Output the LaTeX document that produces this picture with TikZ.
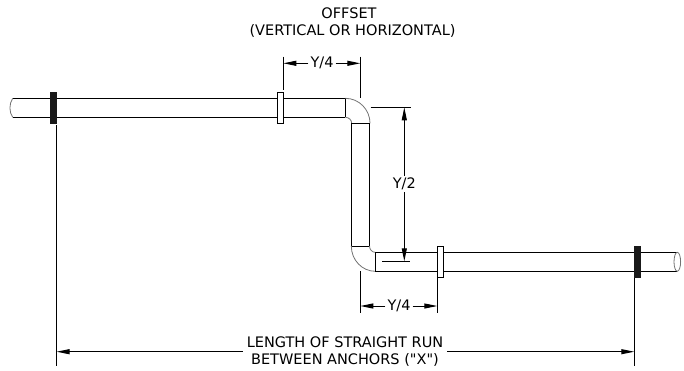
\documentclass[tikz,border=0pt]{standalone}
\usepackage{fontspec}
\setmainfont{DejaVu Sans}
\newcommand{\plainquote}{\XeTeXglyph\XeTeXcharglyph34 }
\usetikzlibrary{arrows.meta}
\tikzset{
  pipeline/.style={black,line width=1pt},
  elbowline/.style={black!55,line width=0.8pt},
  flange/.style={draw=black,line width=1pt,fill=white},
  anchorblock/.style={fill=black!90},
  extline/.style={black,line width=1pt},
  dimline/.style={black,line width=1pt,-{Stealth[length=13pt,width=5pt,inset=0pt]}},
  dimtext/.style={inner sep=2pt,font=\fontsize{14.5}{17}\selectfont,align=center}
}
\begin{document}
\begin{tikzpicture}[x=1pt,y=-1pt]
  \useasboundingbox (0,0) rectangle (684,370);
  % left run and upper elbow
  \draw [pipeline] (12.7,98.3) -- (345.3,98.3);
  \draw [pipeline] (12.7,117.3) -- (345.3,117.3);
  \draw [pipeline] (345.3,98.3) -- (345.3,117.3);
  \draw [elbowline] (12.7,98.3) .. controls (9,104) and (9,112) .. (12.7,117.3);
  \draw [elbowline] (345.3,98.3) arc (270:360:24.7 and 25);
  \draw [elbowline] (345.3,117.3) arc (270:360:6.4 and 6);
  % riser
  \draw [pipeline] (351.7,123.3) -- (351.7,246);
  \draw [pipeline] (369.7,123.3) -- (369.7,246);
  \draw [pipeline] (351.7,123.3) -- (370,123.3);
  \draw [pipeline] (351.3,246) -- (369.7,246);
  % right run and lower elbow
  \draw [elbowline] (351.3,246) arc (180:90:24 and 25.3);
  \draw [elbowline] (369.5,246) arc (180:90:5.8 and 6.3);
  \draw [pipeline] (375.3,252.3) -- (677.3,252.3);
  \draw [pipeline] (375.3,271.3) -- (677.3,271.3);
  \draw [pipeline] (375.3,252.3) -- (375.3,271.3);
  \draw [elbowline] (677.3,261.8) ellipse (3.3 and 9.5);
  % flanges and anchors
  \filldraw [flange] (277.3,92.3) rectangle (283.7,123.3);
  \filldraw [flange] (437.3,246) rectangle (443.7,277.3);
  \fill [anchorblock] (50,92) rectangle (57,123.7);
  \fill [anchorblock] (633.7,246) rectangle (640.7,277.7);
  % labels
  \node (offsetlabel) [dimtext] at (349,13) {OFFSET};
  \node (offsetkind) [dimtext] at (352.5,31) {(VERTICAL OR HORIZONTAL)};
  \node (quarterup) [dimtext] at (322,63.3) {Y/4};
  \node (halfrise) [dimtext] at (404.3,184) {Y/2};
  \node (quarterlow) [dimtext] at (399,306) {Y/4};
  \node (runlabel) [dimtext,inner xsep=4pt] at (345,351.5) {LENGTH OF STRAIGHT RUN\\BETWEEN ANCHORS (\plainquote X\plainquote)};
  % extension lines
  \coordinate (upleft) at (283.3,63.3);
  \coordinate (upright) at (360.3,63.3);
  \coordinate (riseup) at (404.3,107.3);
  \coordinate (risedown) at (404.3,261.3);
  \coordinate (lowleft) at (360.3,306);
  \coordinate (lowright) at (437.3,306);
  \coordinate (runleft) at (56.6,351.7);
  \coordinate (runright) at (634.3,351.7);
  \draw [extline] (283.3,56.7) -- (283.3,90);
  \draw [extline] (360.3,56.7) -- (360.3,98.3);
  \draw [extline] (370.7,107.3) -- (410.7,107.3);
  \draw [extline] (382,261.3) -- (410,261.3);
  \draw [extline] (360.3,271) -- (360.3,312.7);
  \draw [extline] (437.3,278) -- (437.3,312.7);
  \draw [extline] (56.6,125) -- (56.6,366);
  \draw [extline] (634.3,278) -- (634.3,366);
  % dimension arrows
  \draw [dimline] (quarterup) -- (upleft);
  \draw [dimline] (quarterup) -- (upright);
  \draw [dimline] (halfrise) -- (riseup);
  \draw [dimline] (halfrise) -- (risedown);
  \draw [dimline] (quarterlow) -- (lowleft);
  \draw [dimline] (quarterlow) -- (lowright);
  \draw [dimline] (runlabel.west |- runleft) -- (runleft);
  \draw [dimline] (runlabel.east |- runright) -- (runright);
\end{tikzpicture}
\end{document}
